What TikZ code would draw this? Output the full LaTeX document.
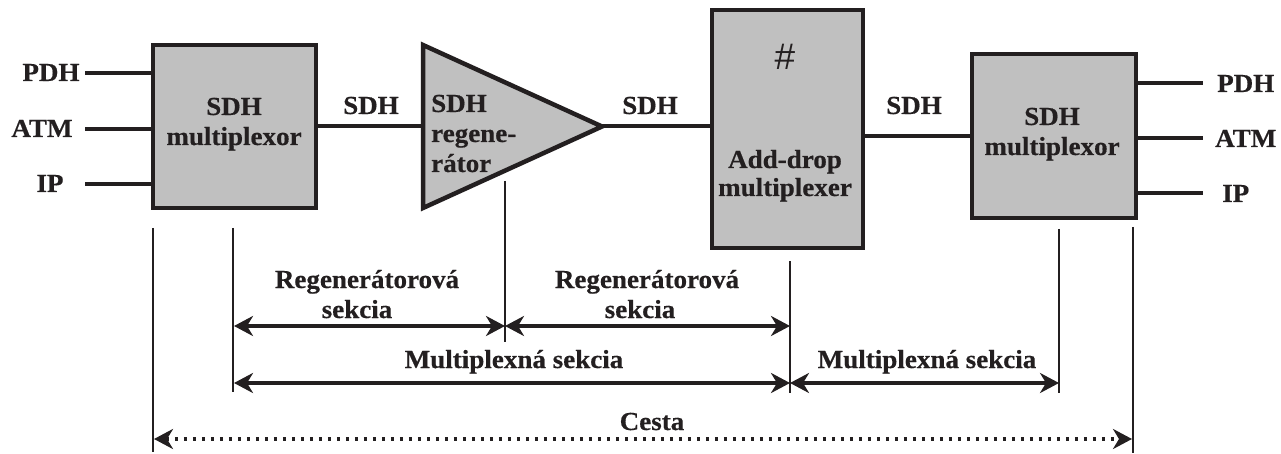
\documentclass[tikz,border=0pt]{standalone}
\usepackage{fontspec}
\setmainfont{Liberation Serif}[FakeStretch=1.04, BoldFeatures={FakeBold=0.5}]
\newfontfamily\hashfont{Liberation Sans}
\usetikzlibrary{arrows.meta}
\definecolor{ink}{HTML}{231F20}
\definecolor{boxgray}{HTML}{C0C0C0}
\begin{document}
\begin{tikzpicture}[x=1pt,y=-1pt,
  lab/.style={font=\fontsize{26}{30}\selectfont\bfseries, text=ink, inner sep=0pt, anchor=base},
  labw/.style={lab, anchor=base west},
  blk/.style={draw=ink, fill=boxgray, line width=4.5pt, inner sep=0pt},
  wire/.style={draw=ink, line width=4pt},
  tickline/.style={draw=ink, line width=2.4pt},
  dimarrow/.style={draw=ink, line width=3.4pt, {Stealth[length=19pt,width=20pt,inset=6pt]}-{Stealth[length=19pt,width=20pt,inset=6pt]}},
  cestaline/.style={dimarrow, dash pattern=on 3.4pt off 5.6pt}
]
\useasboundingbox (0,0) rectangle (1281,454);

% blocks
\node[blk, minimum width=163pt, minimum height=163pt] (mux1) at (234.5,126.5) {};
\node[blk, minimum width=151pt, minimum height=238pt] (adm) at (787.5,129) {};
\node[blk, minimum width=164pt, minimum height=164pt] (mux2) at (1054,136) {};

% triangle (regenerator)
\coordinate (triA) at (423,45);
\coordinate (triB) at (423,208);
\coordinate (triT) at (602,126.5);
\coordinate (triIn) at (423,126.5);
\draw[draw=ink, fill=boxgray, line width=4.5pt, line join=miter] (triA) -- (triT) -- (triB) -- cycle;

% block texts
\node[lab] (m1a) at (234,115) {SDH};
\node[lab] (m1b) at (234,145) {multiplexor};
\node[labw] (r1) at (431,112) {SDH};
\node[labw] (r2) at (431,142) {regene-};
\node[labw] (r3) at (431,172) {rátor};
\node[anchor=base, inner sep=0pt, text=ink, font=\hashfont\fontsize{37}{40}\selectfont] (hash) at (785,70) {\#};
\node[lab] (a1) at (785,168) {Add-drop};
\node[lab] (a2) at (785,196) {multiplexer};
\node[lab] (m2a) at (1052,125) {SDH};
\node[lab] (m2b) at (1052,155) {multiplexor};

% inputs
\node[lab] (lP) at (51,81) {PDH};
\node[lab] (lA) at (42,137) {ATM};
\node[lab] (lI) at (50,192) {IP};
\coordinate (inP) at (85,73);
\coordinate (inA) at (85,129);
\coordinate (inI) at (85,184);
\draw[wire] (inP) -- (inP -| mux1.west);
\draw[wire] (inA) -- (inA -| mux1.west);
\draw[wire] (inI) -- (inI -| mux1.west);

% outputs
\node[labw] (rP) at (1217,92) {PDH};
\node[labw] (rA) at (1215,147) {ATM};
\node[labw] (rI) at (1222,202) {IP};
\coordinate (outP) at (1203,83);
\coordinate (outA) at (1203,138);
\coordinate (outI) at (1203,193);
\draw[wire] (outP -| mux2.east) -- (outP);
\draw[wire] (outA -| mux2.east) -- (outA);
\draw[wire] (outI -| mux2.east) -- (outI);

% main links
\draw[wire] (mux1.east) -- (triIn);
\draw[wire] (triT) -- (triT -| adm.west);
\draw[wire] (adm.east |- mux2.west) -- (mux2.west);
\node[lab] (s1) at (371,114) {SDH};
\node[lab] (s2) at (650,114) {SDH};
\node[lab] (s3) at (914,114) {SDH};

% ticks
\coordinate (t1a) at (153,228);  \coordinate (t1b) at (153,452);
\coordinate (t2a) at (233,228);  \coordinate (t2b) at (233,392);
\coordinate (t3a) at (505,181);  \coordinate (t3b) at (505,342);
\coordinate (t4a) at (790,261);  \coordinate (t4b) at (790,393);
\coordinate (t5a) at (1059,229); \coordinate (t5b) at (1059,393);
\coordinate (t6a) at (1133,227); \coordinate (t6b) at (1133,453);
\draw[tickline] (t1a) -- (t1b);
\draw[tickline] (t2a) -- (t2b);
\draw[tickline] (t3a) -- (t3b);
\draw[tickline] (t4a) -- (t4b);
\draw[tickline] (t5a) -- (t5b);
\draw[tickline] (t6a) -- (t6b);

% dimension arrows
\coordinate (d1) at (234,326);
\coordinate (d2) at (505,326);
\coordinate (d3) at (790,326);
\coordinate (e1) at (234,383);
\coordinate (e2) at (790,383);
\coordinate (e3) at (1059,383);
\coordinate (c1) at (154,439);
\coordinate (c2) at (1132,439);
\draw[dimarrow] (d1) -- (d2);
\draw[dimarrow] (d2) -- (d3);
\draw[dimarrow] (e1) -- (e2);
\draw[dimarrow] (e2) -- (e3);
\draw[cestaline] (c1) -- (c2);

\node[lab] (rg1) at (367,288) {Regenerátorová};
\node[lab] (sk1) at (357,318) {sekcia};
\node[lab] (rg2) at (647,288) {Regenerátorová};
\node[lab] (sk2) at (640,318) {sekcia};
\node[lab] (ms1) at (514,368) {Multiplexná sekcia};
\node[lab] (ms2) at (927,368) {Multiplexná sekcia};
\node[lab] (ce) at (652,430) {Cesta};
\end{tikzpicture}
\end{document}
